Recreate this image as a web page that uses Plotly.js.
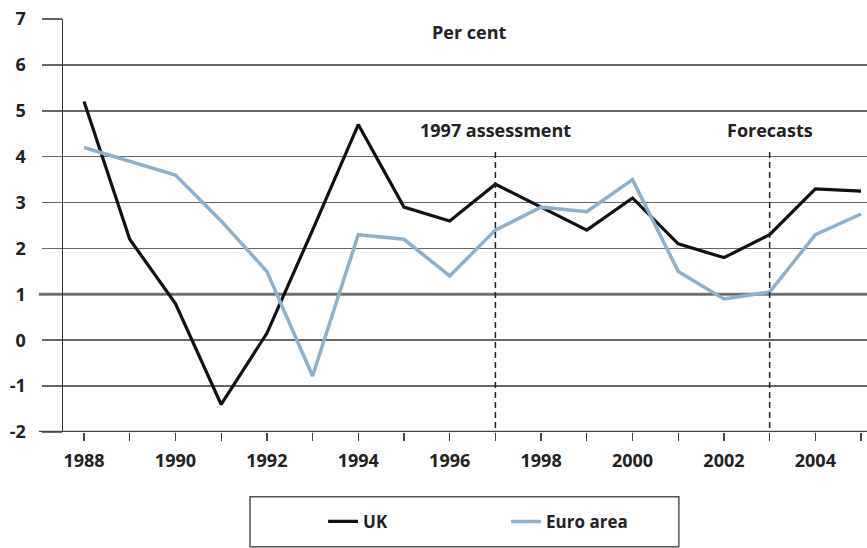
<!DOCTYPE html>
<html>
<head>
<meta charset="utf-8">
<script src="https://cdn.plot.ly/plotly-3.0.1.min.js"></script>
<style>html,body{margin:0;padding:0;background:#fff;}#chart{width:867px;height:548px;}</style>
</head>
<body>
<div id="chart"></div>
<script>
const years = [1988,1989,1990,1991,1992,1993,1994,1995,1996,1997,1998,1999,2000,2001,2002,2003,2004,2005];
const ukValues = [5.2,2.2,0.8,-1.4,0.15,2.4,4.7,2.9,2.6,3.4,2.9,2.4,3.1,2.1,1.8,2.3,3.3,3.25];
const euroValues = [4.2,3.9,3.6,2.6,1.5,-0.78,2.3,2.2,1.4,2.4,2.9,2.8,3.5,1.5,0.9,1.05,2.3,2.75];
const xTickLabels = ['1988','','1990','','1992','','1994','','1996','','1998','','2000','','2002','','2004',''];
const yTickVals = [-2,-1,0,1,2,3,4,5,6,7];
const yTickLabels = ['-2','-1','0','1','2','3','4','5','6','7'];
const markerYears = [1997, 2003];
const markerLabels = ['1997 assessment','Forecasts'];
const unitLabel = 'Per cent';

const fontFam = '"Open Sans", "DejaVu Sans", sans-serif';

const traces = [
  {x: years, y: ukValues, name: 'UK', type: 'scatter', mode: 'lines',
   line: {color: '#111111', width: 3.2}},
  {x: years, y: euroValues, name: 'Euro area', type: 'scatter', mode: 'lines',
   line: {color: '#8fb0cb', width: 3.5}}
];

const shapes = [
  {type: 'line', xref: 'paper', x0: -0.03, x1: 1, yref: 'y', y0: 1, y1: 1,
   line: {color: '#777777', width: 3}, layer: 'below'},
  {type: 'line', xref: 'paper', x0: -0.03, x1: 1, yref: 'y', y0: -2, y1: -2,
   line: {color: '#444', width: 2.5}},
  {type: 'rect', xref: 'paper', yref: 'paper', x0: 0.2326, x1: 0.766, y0: -0.157, y1: -0.278,
   line: {color: '#555', width: 1.5}, fillcolor: 'rgba(0,0,0,0)'}
];
markerYears.forEach(function(yr){
  shapes.push({type: 'line', xref: 'x', x0: yr, x1: yr, yref: 'y', y0: 4.1, y1: -2.2,
    line: {color: '#222222', width: 1.5, dash: '6px,4px'}});
});

const annotations = [
  {text: '<b>' + unitLabel + '</b>', xref: 'paper', yref: 'y', x: 0.505, y: 6.72,
   showarrow: false, font: {family: fontFam, size: 18, color: '#222'}}
];
markerYears.forEach(function(yr, i){
  annotations.push({text: '<b>' + markerLabels[i] + '</b>', xref: 'x', yref: 'y', x: yr, y: 4.58,
    showarrow: false, font: {family: fontFam, size: 18, color: '#222'}});
});

const layout = {
  width: 867, height: 548,
  margin: {l: 63, r: 0, t: 19, b: 116},
  paper_bgcolor: '#ffffff', plot_bgcolor: '#ffffff',
  font: {family: fontFam, color: '#222'},
  showlegend: true,
  legend: {orientation: 'h', x: 0.3235, xanchor: 'left', y: -0.2175, yanchor: 'middle',
    borderwidth: 0, bgcolor: 'rgba(0,0,0,0)', entrywidth: 138, entrywidthmode: 'pixels',
    font: {family: fontFam, size: 17, color: '#222', weight: 'bold'}},
  xaxis: {range: [1987.54, 2005.13], tickvals: years, ticktext: xTickLabels,
    ticks: 'outside', ticklen: 8, tickwidth: 1.3, tickcolor: '#444',
    showgrid: false, zeroline: false, showline: false,
    ticklabelstandoff: 4,
    tickfont: {family: fontFam, size: 18, color: '#222', weight: 'bold'}},
  yaxis: {range: [-2, 7], tickvals: yTickVals, ticktext: yTickLabels,
    ticks: 'outside', ticklen: 20, tickwidth: 1.5, tickcolor: '#666',
    showgrid: true, gridcolor: '#666', gridwidth: 1.5, zeroline: false,
    showline: true, linecolor: '#333', linewidth: 1.5,
    ticklabelstandoff: 12,
    tickfont: {family: fontFam, size: 18, color: '#222', weight: 'bold'}},
  shapes: shapes,
  annotations: annotations
};

Plotly.newPlot('chart', traces, layout, {displayModeBar: false, staticPlot: true});
</script>
</body>
</html>
